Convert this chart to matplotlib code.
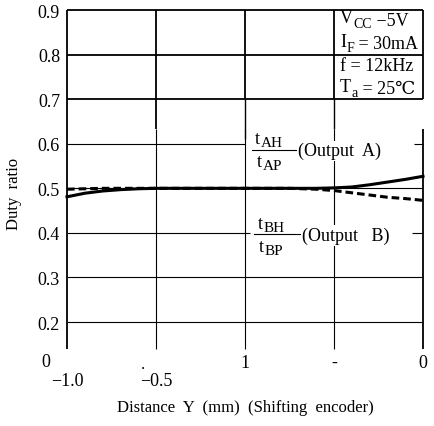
import matplotlib
matplotlib.use("Agg")
import matplotlib.pyplot as plt

plt.rcParams['font.family'] = ['Liberation Serif', 'DejaVu Serif']

# duty ratio vs. encoder shift
dist = [-1.0, -0.9, -0.8, -0.7, -0.6, -0.5, -0.25, 0.0, 0.25, 0.4, 0.5, 0.6, 0.7, 0.8, 0.9, 1.0]
duty_a = [0.481, 0.489, 0.494, 0.497, 0.499, 0.500, 0.500, 0.500, 0.500, 0.500, 0.501, 0.503, 0.508, 0.514, 0.520, 0.527]
duty_b = [0.498, 0.499, 0.500, 0.500, 0.500, 0.500, 0.500, 0.500, 0.500, 0.498, 0.495, 0.490, 0.485, 0.480, 0.477, 0.473]

y_ticks = [0.2, 0.3, 0.4, 0.5, 0.6, 0.7, 0.8, 0.9]
x_grid = [-1.0, -0.5, 0.0, 0.5, 1.0]
x_labels = ['\u22121.0', '\u22120.5', '1', '-', '0']

# test conditions: (main, subscript, rest)
conditions = [('V', 'CC', ' \u22125V'), ('I', 'F', ' = 30mA'),
              ('f = 12kHz', '', ''), ('T', 'a', ' = 25\u2103')]

fig = plt.figure(figsize=(4.34, 4.27), dpi=100)
ax = fig.add_axes([67 / 434, 1 - 350 / 427, 356 / 434, 339 / 427])
ax.set_xlim(-1.0, 1.0)
ax.set_ylim(0.1396, 0.9)
for s in ax.spines.values():
    s.set_visible(False)


def px_x(px):
    return -1.0 + (px - 67) / 178


def px_y(py):
    return 0.9 - (py - 11) / 447


def sub_text(x, y, base, sub, rest='', fs=13, sub_fs=10.5, drop=-3):
    t = ax.text(x, y, base, fontsize=fs, ha='left', va='center')
    if sub:
        t = ax.annotate(sub, xy=(1, 0), xycoords=t, xytext=(0.3, drop),
                        textcoords='offset points', fontsize=sub_fs, va='bottom')
    if rest:
        ax.annotate(rest, xy=(1, 0), xycoords=t, xytext=(0, -drop - 1.5),
                    textcoords='offset points', fontsize=fs, va='bottom')


k = dict(color='black', clip_on=False, solid_capstyle='butt')
# upper part of the grid: heavier lines
for yv in [0.7, 0.8, 0.9]:
    ax.plot([-1, 1], [yv, yv], lw=1.3, **k)
for xv in x_grid[:2]:
    ax.plot([xv, xv], [0.634, 0.9], lw=1.3, **k)
for xv in x_grid[2:]:
    ax.plot([xv, xv], [0.7, 0.9], lw=1.3, **k)
ax.plot([0.0, 0.0], [0.61, 0.7], lw=1.0, **k)
ax.plot([0.5, 0.5], [0.634, 0.7], lw=1.0, **k)

# lower part: thin lines
for yv in [0.2, 0.3, 0.5]:
    ax.plot([-1, 1], [yv, yv], lw=0.8, **k)
ax.plot([-1, 0.0], [0.6, 0.6], lw=0.8, **k)
ax.plot([0.95, 1.0], [0.6, 0.6], lw=0.8, **k)
ax.plot([-1, 0.03], [0.4, 0.4], lw=0.8, **k)
ax.plot([0.94, 1.0], [0.4, 0.4], lw=0.8, **k)
for xv in x_grid:
    ax.plot([xv, xv], [0.1396, 0.634], lw=1.3 if xv in (-1.0, 1.0) else 0.8, **k)

ax.plot(dist, duty_a, color='black', lw=2.2, clip_on=False, zorder=4)
ax.plot(dist, duty_b, color='black', lw=2.2, ls=(0, (2.5, 1.3)), clip_on=False, zorder=4)

ax.set_yticks(y_ticks)
ax.set_yticklabels([f'{v:.1f}' for v in y_ticks], fontsize=13)
ax.tick_params(axis='y', length=0, pad=5)
ax.set_xticks([])

# x labels sit at staggered heights
lab_y = [382, 382, 364, 364, 364]
for xv, lab, py in zip(x_grid, x_labels, lab_y):
    ax.text(xv, px_y(py), lab, ha='center', va='center', fontsize=13, clip_on=False)
ax.text(px_x(46), px_y(363), '0', ha='center', va='center', fontsize=13)
ax.text(px_x(143), px_y(366), '.', ha='center', va='center', fontsize=12)

ax.set_xlabel('Distance  Y  (mm)  (Shifting  encoder)', fontsize=12)
ax.set_ylabel('Duty  ratio', fontsize=12)
ax.xaxis.set_label_coords(0.5, -0.147)
ax.yaxis.set_label_coords(-0.126, 0.46)

for (base, sub, rest), py in zip(conditions, [19, 43, 67, 88]):
    sub_text(px_x(340), px_y(py), base, sub, rest, fs=13, sub_fs=10, drop=-2.5)

# output labels drawn as t_xH / t_xP fractions
sub_text(px_x(255), px_y(140), 't', 'AH', fs=13, sub_fs=11, drop=-1.5)
ax.plot([px_x(252), px_x(298)], [px_y(151), px_y(151)], color='black', lw=0.8)
sub_text(px_x(257), px_y(163), 't', 'AP', fs=13, sub_fs=11, drop=-1.5)
ax.text(px_x(298), px_y(152), '(Output  A)', ha='left', va='center', fontsize=13,
        bbox=dict(facecolor='white', edgecolor='none', pad=1), zorder=5)

sub_text(px_x(258), px_y(225), 't', 'BH', fs=13, sub_fs=11, drop=-1.5)
ax.plot([px_x(254), px_x(302)], [px_y(236), px_y(236)], color='black', lw=0.8)
sub_text(px_x(259), px_y(248), 't', 'BP', fs=13, sub_fs=11, drop=-1.5)
ax.text(px_x(302), px_y(237), '(Output   B)', ha='left', va='center', fontsize=13,
        bbox=dict(facecolor='white', edgecolor='none', pad=1), zorder=5)

fig.savefig('out.png', dpi=100)
